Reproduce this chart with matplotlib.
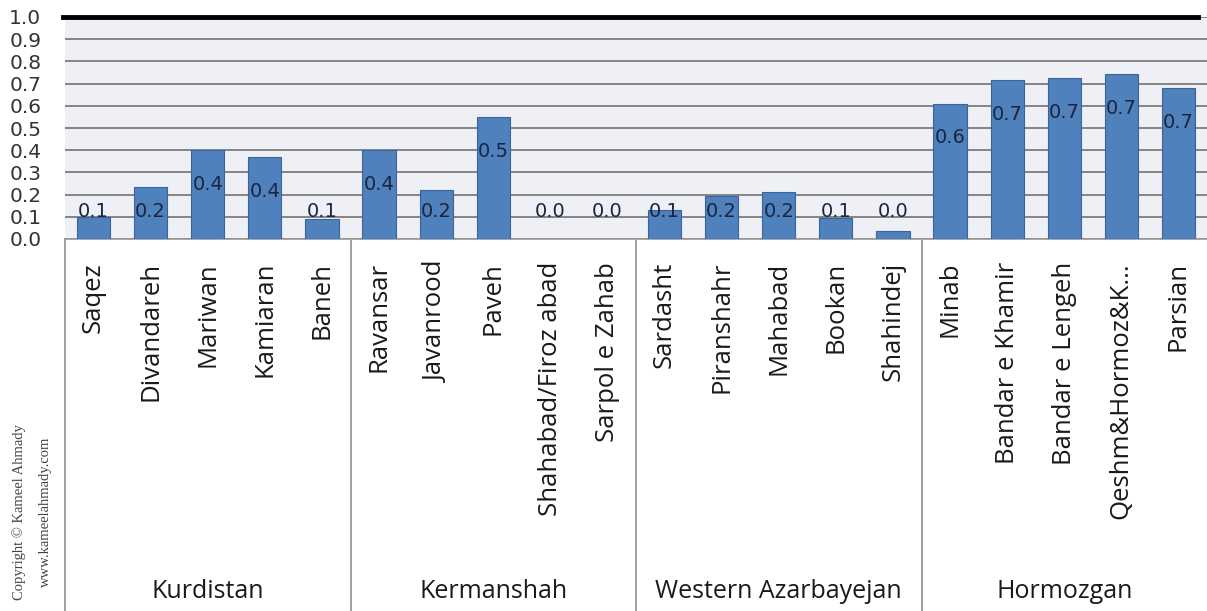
import numpy as np
import matplotlib
matplotlib.use('Agg')
import matplotlib.pylab as plt
import matplotlib.transforms as mtransforms

# data
provinces = ['Kurdistan', 'Kermanshah', 'Western Azarbayejan', 'Hormozgan']
cities = ['Saqez', 'Divandareh', 'Mariwan', 'Kamiaran', 'Baneh',
          'Ravansar', 'Javanrood', 'Paveh', 'Shahabad/Firoz abad', 'Sarpol e Zahab',
          'Sardasht', 'Piranshahr', 'Mahabad', 'Bookan', 'Shahindej',
          'Minab', 'Bandar e Khamir', 'Bandar e Lengeh', 'Qeshm&Hormoz&K...', 'Parsian']
group_size = [5, 5, 5, 5]
values = [0.10, 0.235, 0.40, 0.37, 0.09,
          0.40, 0.22, 0.548, 0.0, 0.0,
          0.13, 0.195, 0.21, 0.095, 0.036,
          0.61, 0.715, 0.724, 0.742, 0.68]
yticks = [0.0, 0.1, 0.2, 0.3, 0.4, 0.5, 0.6, 0.7, 0.8, 0.9, 1.0]

W, H = 1207, 611
fig = plt.figure(figsize=(W / 100.0, H / 100.0), dpi=100)
fig.patch.set_facecolor('white')
# axes box in pixels: x 65..1207, y 17..239
ax = fig.add_axes([65.0 / W, (H - 239.0) / H, 1142.0 / W, 222.0 / H])
ax.set_facecolor('#eef0f5')

x = np.arange(len(cities))
ax.bar(x, values, width=0.58, color='#4f81bd', edgecolor='#3b659a', linewidth=0.8, zorder=3)

# value labels, Excel style (inside end, but not lower than the bottom row)
for i, v in enumerate(values):
    ax.text(i, max(v - 0.155, 0.122), '%.1f' % v, ha='center', va='center',
            fontsize=14, color='#1c2540', family='DejaVu Sans', zorder=4)

ax.set_xlim(-0.5, len(cities) - 0.5)
ax.set_ylim(0, 1.0)
ax.set_yticks(yticks)
ax.set_yticklabels(['%.1f' % t for t in yticks], fontsize=14.5, color='#333333', family='DejaVu Sans')
ax.tick_params(axis='y', length=0, pad=17)
ax.set_xticks([])
ax.yaxis.grid(True, color='#858585', linewidth=1.4, zorder=0)
ax.set_axisbelow(True)
for s in ['left', 'right', 'top']:
    ax.spines[s].set_visible(False)
ax.spines['bottom'].set_color('#9a9a9a')
ax.spines['bottom'].set_linewidth(1.2)
# thick black line on top (1.0)
ax.plot([-0.53, 19.35], [1.0, 1.0], color='black', linewidth=3.5, zorder=5, clip_on=False)

# multi level category axis
trans = mtransforms.blended_transform_factory(ax.transData, ax.transAxes)
bottom = -372.0 / 222.0
start = 0
bounds = [-0.5]
for n in group_size:
    start += n
    bounds.append(start - 0.5)
for b in bounds[:-1]:
    ax.plot([b, b], [0, bottom], color='#a0a0a0', linewidth=1.4, transform=trans, clip_on=False)

for i, c in enumerate(cities):
    ax.text(i, -23.0 / 222.0, c, rotation=90, ha='center', va='top', fontsize=18.5,
            family='Open Sans', color='#1a1a1a', transform=trans)

start = 0
for p, n in zip(provinces, group_size):
    mid = start + (n - 1) / 2.0
    ax.text(mid, -353.0 / 222.0, p, ha='center', va='center', fontsize=18,
            family='Open Sans', color='#1a1a1a', transform=trans)
    start += n

# copyright note on the left
fig.text(19.0 / W, 1 - 512.0 / H, 'Copyright \u00a9 Kameel Ahmady', rotation=90, ha='center', va='center',
         fontsize=10.5, family='Liberation Serif', color='#444444')
fig.text(45.0 / W, 1 - 512.0 / H, 'www.kameelahmady.com', rotation=90, ha='center', va='center',
         fontsize=10.5, family='Liberation Serif', color='#444444')

plt.savefig('out.png', dpi=100)
